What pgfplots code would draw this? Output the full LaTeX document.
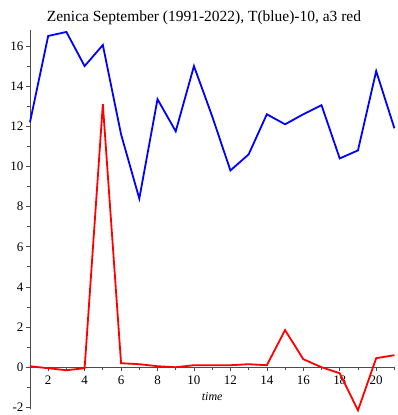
\documentclass[border=0pt]{standalone}
\usepackage{pgfplots}
\pgfplotsset{compat=1.18}
\usepackage{fontspec}
\setmainfont{Liberation Serif}
\begin{document}
\begin{tikzpicture}
\begin{axis}[
  name=ax,
  scale only axis,
  width=365pt, height=380pt,
  xmin=1, xmax=21, ymin=-2.1, ymax=16.8,
  axis x line=middle, axis y line=left,
  axis line style={-, draw=black!70, line width=0.9pt},
  xtick={2,4,...,20}, ytick={-2,0,...,16},
  minor xtick={1,3,...,21}, minor ytick={-1,1,...,15},
  tick align=outside,
  major tick length=4pt, minor tick length=3pt,
  tick style={black!70, line width=0.7pt},
  ticklabel style={font=\fontsize{13}{14}\selectfont},
  /pgf/number format/assume math mode=true,
  xticklabel style={yshift=-1pt},
  yticklabel style={xshift=1pt},
  clip=false,
]
\addplot[blue, line width=1.8pt] coordinates {
(1,12.2) (2,16.5) (3,16.7) (4,15.0) (5,16.05) (6,11.6) (7,8.4) (8,13.35) (9,11.75) (10,15.0) (11,12.5) (12,9.8) (13,10.6) (14,12.6) (15,12.1) (16,12.6) (17,13.05) (18,10.4) (19,10.8) (20,14.75) (21,11.9)
};
\addplot[red, line width=1.8pt] coordinates {
(1,0.05) (2,-0.05) (3,-0.15) (4,-0.05) (5,13.1) (6,0.2) (7,0.15) (8,0.05) (9,0.0) (10,0.1) (11,0.1) (12,0.1) (13,0.15) (14,0.1) (15,1.85) (16,0.4) (17,0.0) (18,-0.3) (19,-2.15) (20,0.45) (21,0.6)
};
\node[font=\fontsize{12}{13}\selectfont\itshape] at (axis cs:11,-1.45) {time};
\node[font=\fontsize{15.5}{17}\selectfont, anchor=base] at (axis cs:10.55,17.2) {Zenica September (1991-2022), T(blue)-10, a3 red};
\end{axis}
\path (ax.south west) +(-30pt,-5pt) (ax.north east) +(3pt,30pt);
\end{tikzpicture}
\end{document}
